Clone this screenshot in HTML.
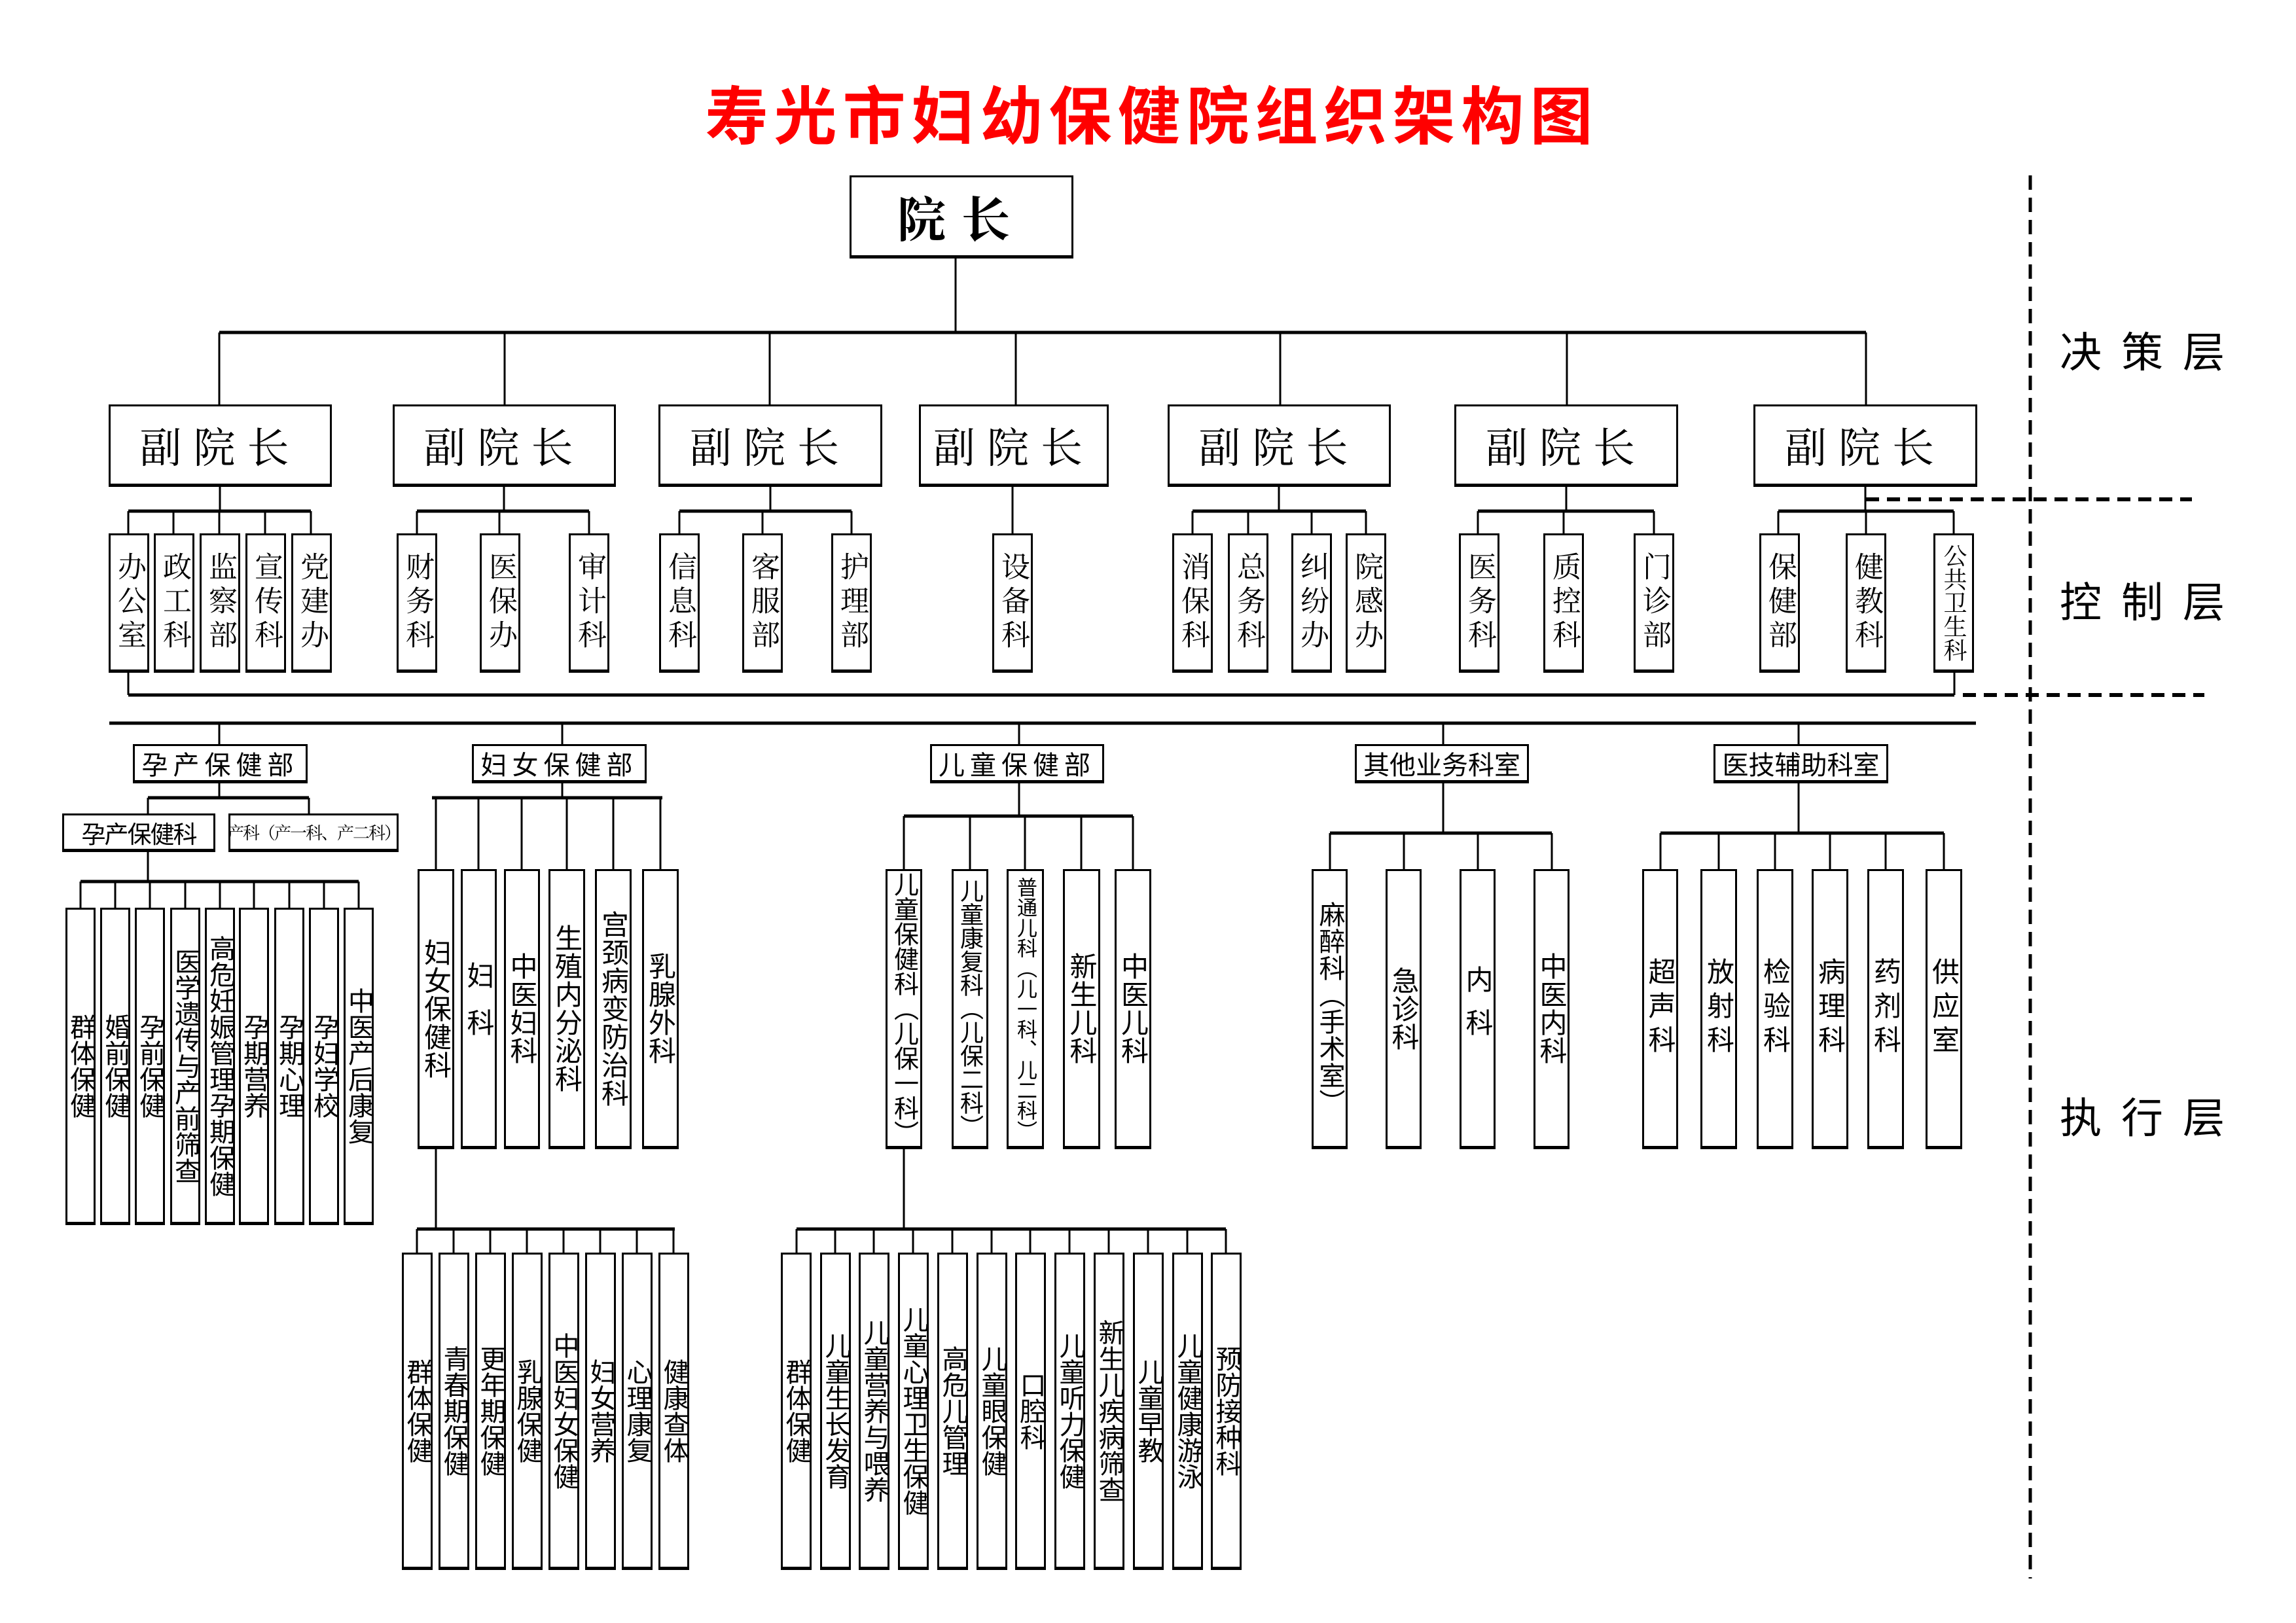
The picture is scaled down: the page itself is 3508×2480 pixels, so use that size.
<!DOCTYPE html>
<html><head><meta charset="utf-8"><style>
body{margin:0;width:3508px;height:2480px;background:#fff;position:relative;overflow:hidden;font-family:"Liberation Sans","Noto Sans CJK SC",sans-serif;color:#000}
.b{position:absolute;border:3px solid #000;border-bottom-width:5px;box-sizing:border-box;display:flex;align-items:center;justify-content:center;background:#fff;white-space:nowrap;overflow:hidden}
.v{writing-mode:vertical-rl}
.c{top:815px;height:213px;width:62px;font-family:"Liberation Serif","Noto Serif CJK SC",serif;font-size:44px;letter-spacing:8px}
.vp{top:618px;height:126px;font-family:"Liberation Serif","Noto Serif CJK SC",serif;font-size:64px;letter-spacing:18px}
.d{top:1137px;height:60px;font-size:40px}
.e{top:1328px;height:428px;font-size:42px;letter-spacing:1px}
.p{top:1387px;height:485px;width:46px;font-size:40px;line-height:46px}
.l{top:1914px;height:485px;width:47px;font-size:40px}
.lab{position:absolute;font-size:64px;letter-spacing:30px;left:3147px;font-family:"Liberation Sans","Noto Sans CJK SC",sans-serif}
</style></head><body>
<div style="position:absolute;left:1000px;top:120px;width:1520px;text-align:center;color:#f00;font-weight:bold;font-size:96px;letter-spacing:9px;line-height:120px;white-space:nowrap;font-family:'Liberation Sans','Noto Sans CJK SC',sans-serif">寿光市妇幼保健院组织架构图</div>
<svg style="position:absolute;left:0;top:0" width="3508" height="2480" stroke="#000" fill="none">
<g stroke-width="3">
<path d="M1460 395V508M335 508V618M771 508V618M1176 508V618M1552 508V618M1956 508V618M2394 508V618M2851 508V618"/>
<path d="M336 744V781M196 781V815M265 781V815M335 781V815M405 781V815M475 781V815"/>
<path d="M770 744V781M637 781V815M763 781V815M900 781V815"/>
<path d="M1177 744V781M1038 781V815M1165 781V815M1301 781V815"/>
<path d="M1547 744V815"/>
<path d="M1954 744V781M1822 781V815M1907 781V815M2004 781V815M2087 781V815"/>
<path d="M2393 744V781M2258 781V815M2389 781V815M2527 781V815"/>
<path d="M2850 744V781M2717 781V815M2851 781V815M2985 781V815"/>
<path d="M196 1028V1062M2986 1028V1062"/>
<path d="M335 1105V1137M859 1105V1137M1557 1105V1137M2205 1105V1137M2748 1105V1137"/>
<path d="M335 1197V1219M226 1219V1243M472 1219V1243M226 1302V1347"/>
<path d="M123 1347V1387M176 1347V1387M229 1347V1387M283 1347V1387M336 1347V1387M388 1347V1387M442 1347V1387M495 1347V1387M548 1347V1387"/>
<path d="M859 1197V1219M666 1219V1328M731 1219V1328M797 1219V1328M866 1219V1328M937 1219V1328M1009 1219V1328"/>
<path d="M666 1756V1878M637 1878V1914M693 1878V1914M749 1878V1914M805 1878V1914M861 1878V1914M917 1878V1914M973 1878V1914M1029 1878V1914"/>
<path d="M1557 1197V1247M1381 1247V1328M1482 1247V1328M1566 1247V1328M1652 1247V1328M1731 1247V1328"/>
<path d="M1381 1756V1878M1217 1878V1914M1276 1878V1914M1335 1878V1914M1395 1878V1914M1455 1878V1914M1515 1878V1914M1574 1878V1914M1634 1878V1914M1694 1878V1914M1754 1878V1914M1814 1878V1914M1873 1878V1914"/>
<path d="M2205 1197V1273M2032 1273V1328M2145 1273V1328M2258 1273V1328M2371 1273V1328"/>
<path d="M2748 1197V1273M2537 1273V1328M2626 1273V1328M2712 1273V1328M2796 1273V1328M2881 1273V1328M2970 1273V1328"/>
</g>
<g stroke-width="5">
<path d="M335 508H2851M196 781H475M637 781H900M1038 781H1301M1822 781H2087M2258 781H2527M2717 781H2985M196 1062H2986M167 1105H3019"/>
<path d="M226 1219H472M123 1347H548M660 1219H1012M637 1878H1031M1381 1247H1731M1217 1878H1873M2032 1273H2371M2537 1273H2970"/>
</g>
<path d="M3102 268V2412" stroke-width="5" stroke-dasharray="22 12"/>
<path d="M2851 763H3349M2999 1062H3368" stroke-width="6" stroke-dasharray="20 12"/>
</svg>
<div class="b" style="left:1298px;top:268px;width:342px;height:127px;font-size:74px;font-weight:bold;letter-spacing:24px;font-family:'Liberation Serif','Noto Serif CJK SC',serif">院长</div>
<div class="b vp" style="left:166px;width:341px">副院长</div>
<div class="b vp" style="left:600px;width:341px">副院长</div>
<div class="b vp" style="left:1006px;width:342px">副院长</div>
<div class="b vp" style="left:1404px;width:290px">副院长</div>
<div class="b vp" style="left:1784px;width:341px">副院长</div>
<div class="b vp" style="left:2222px;width:342px">副院长</div>
<div class="b vp" style="left:2679px;width:342px">副院长</div>
<div class="b c v" style="left:166px">办公室</div>
<div class="b c v" style="left:235px">政工科</div>
<div class="b c v" style="left:305px">监察部</div>
<div class="b c v" style="left:375px">宣传科</div>
<div class="b c v" style="left:445px">党建办</div>
<div class="b c v" style="left:606px">财务科</div>
<div class="b c v" style="left:733px">医保办</div>
<div class="b c v" style="left:869px">审计科</div>
<div class="b c v" style="left:1007px">信息科</div>
<div class="b c v" style="left:1134px">客服部</div>
<div class="b c v" style="left:1270px">护理部</div>
<div class="b c v" style="left:1516px">设备科</div>
<div class="b c v" style="left:1791px">消保科</div>
<div class="b c v" style="left:1876px">总务科</div>
<div class="b c v" style="left:1973px">纠纷办</div>
<div class="b c v" style="left:2056px">院感办</div>
<div class="b c v" style="left:2229px">医务科</div>
<div class="b c v" style="left:2358px">质控科</div>
<div class="b c v" style="left:2496px">门诊部</div>
<div class="b c v" style="left:2688px">保健部</div>
<div class="b c v" style="left:2820px">健教科</div>
<div class="b c v" style="left:2954px;font-size:36px;letter-spacing:0;line-height:36px">公共卫生科</div>
<div class="b d" style="left:203px;width:267px;letter-spacing:8px">孕产保健部</div>
<div class="b d" style="left:721px;width:267px;letter-spacing:8px">妇女保健部</div>
<div class="b d" style="left:1421px;width:266px;letter-spacing:8px">儿童保健部</div>
<div class="b d" style="left:2070px;width:266px">其他业务科室</div>
<div class="b d" style="left:2618px;width:267px">医技辅助科室</div>
<div class="b" style="left:95px;top:1243px;width:234px;height:59px;font-size:37px;letter-spacing:-2px">孕产保健科</div>
<div class="b" style="left:349px;top:1243px;width:260px;height:59px;font-size:26px;letter-spacing:-2px;font-family:'Liberation Serif','Noto Serif CJK SC',serif">产科（产一科、产二科）</div>
<div class="b p v" style="left:100px">群体保健</div>
<div class="b p v" style="left:153px">婚前保健</div>
<div class="b p v" style="left:206px">孕前保健</div>
<div class="b p v" style="left:260px">医学遗传与产前筛查</div>
<div class="b p v" style="left:313px">高危妊娠管理孕期保健</div>
<div class="b p v" style="left:365px">孕期营养</div>
<div class="b p v" style="left:419px">孕期心理</div>
<div class="b p v" style="left:472px">孕妇学校</div>
<div class="b p v" style="left:525px">中医产后康复</div>
<div class="b e v" style="left:638px;width:56px">妇女保健科</div>
<div class="b e v" style="left:704px;width:55px;letter-spacing:30px">妇科</div>
<div class="b e v" style="left:770px;width:55px">中医妇科</div>
<div class="b e v" style="left:838px;width:56px">生殖内分泌科</div>
<div class="b e v" style="left:909px;width:56px">宫颈病变防治科</div>
<div class="b e v" style="left:981px;width:56px">乳腺外科</div>
<div class="b e v" style="left:1353px;width:56px;font-size:38px;letter-spacing:0">儿童保健科（儿保一科）</div>
<div class="b e v" style="left:1454px;width:56px;font-size:36px;letter-spacing:0">儿童康复科（儿保二科）</div>
<div class="b e v" style="left:1538px;width:57px;font-size:31px;letter-spacing:0">普通儿科（儿一科、儿二科）</div>
<div class="b e v" style="left:1624px;width:57px">新生儿科</div>
<div class="b e v" style="left:1703px;width:56px">中医儿科</div>
<div class="b e v" style="left:2004px;width:55px;font-size:40px">麻醉科（手术室）</div>
<div class="b e v" style="left:2117px;width:55px">急诊科</div>
<div class="b e v" style="left:2230px;width:55px;letter-spacing:24px">内科</div>
<div class="b e v" style="left:2343px;width:55px">中医内科</div>
<div class="b e v" style="left:2509px;width:55px;letter-spacing:10px">超声科</div>
<div class="b e v" style="left:2598px;width:56px;letter-spacing:10px">放射科</div>
<div class="b e v" style="left:2684px;width:56px;letter-spacing:10px">检验科</div>
<div class="b e v" style="left:2768px;width:56px;letter-spacing:10px">病理科</div>
<div class="b e v" style="left:2853px;width:56px;letter-spacing:10px">药剂科</div>
<div class="b e v" style="left:2942px;width:56px;letter-spacing:10px">供应室</div>
<div class="b l v" style="left:614px">群体保健</div>
<div class="b l v" style="left:670px">青春期保健</div>
<div class="b l v" style="left:726px">更年期保健</div>
<div class="b l v" style="left:782px">乳腺保健</div>
<div class="b l v" style="left:838px">中医妇女保健</div>
<div class="b l v" style="left:894px">妇女营养</div>
<div class="b l v" style="left:950px">心理康复</div>
<div class="b l v" style="left:1006px">健康查体</div>
<div class="b l v" style="left:1193px">群体保健</div>
<div class="b l v" style="left:1253px">儿童生长发育</div>
<div class="b l v" style="left:1312px">儿童营养与喂养</div>
<div class="b l v" style="left:1372px">儿童心理卫生保健</div>
<div class="b l v" style="left:1432px">高危儿管理</div>
<div class="b l v" style="left:1492px">儿童眼保健</div>
<div class="b l v" style="left:1551px">口腔科</div>
<div class="b l v" style="left:1611px">儿童听力保健</div>
<div class="b l v" style="left:1671px">新生儿疾病筛查</div>
<div class="b l v" style="left:1731px">儿童早教</div>
<div class="b l v" style="left:1791px">儿童健康游泳</div>
<div class="b l v" style="left:1850px">预防接种科</div>
<div class="lab" style="top:488px">决策层</div>
<div class="lab" style="top:870px">控制层</div>
<div class="lab" style="top:1658px">执行层</div>
</body></html>
